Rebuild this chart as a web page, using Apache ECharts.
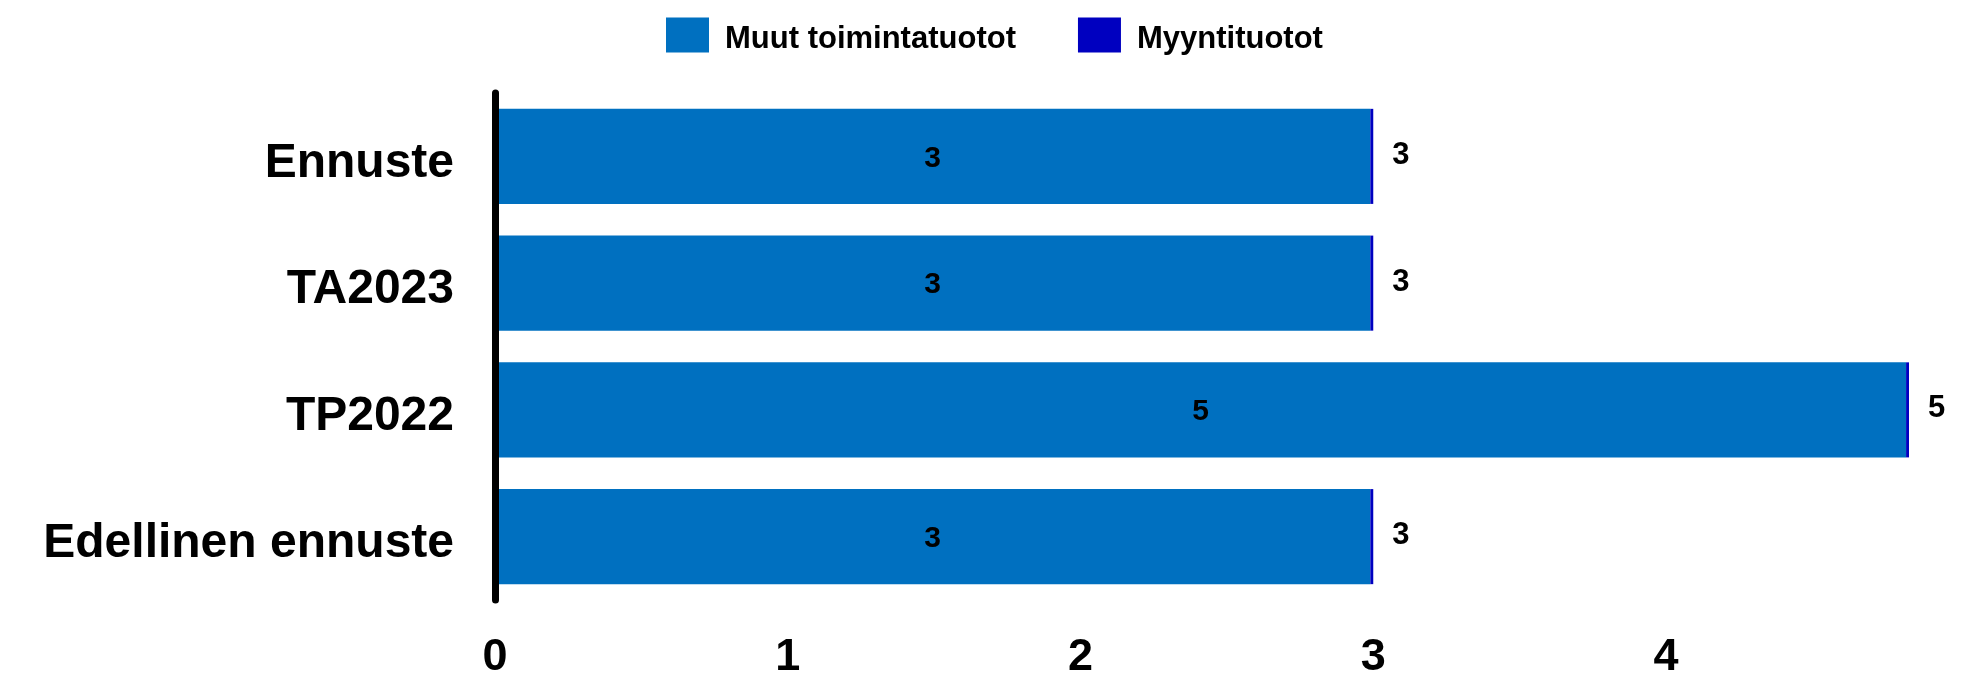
<!DOCTYPE html>
<html>
<head>
<meta charset="utf-8">
<script src="https://cdn.jsdelivr.net/npm/echarts@6/dist/echarts.min.js"></script>
<style>html,body{margin:0;padding:0;background:#fff;}#c{width:1977px;height:676px;}</style>
</head>
<body>
<div id="c"></div>
<script>
const categories = ['Edellinen ennuste', 'TP2022', 'TA2023', 'Ennuste'];
const muutToimintatuotot = [2.99, 4.82, 2.99, 2.99];
const myyntituotot = [0.01, 0.01, 0.01, 0.01];
const xTicks = [0, 1, 2, 3, 4];

const totals = categories.map((c, i) => muutToimintatuotot[i] + myyntituotot[i]);
const axisMax = Math.max(...totals);

const chart = echarts.init(document.getElementById('c'));
chart.setOption({
  animation: false,
  backgroundColor: '#ffffff',
  legend: {
    left: 661,
    top: 10,
    itemWidth: 43,
    itemHeight: 35,
    itemGap: 62,
    icon: 'rect',
    formatter: name => '\n' + name,
    textStyle: {
      fontFamily: '"Liberation Sans", Arial, sans-serif',
      fontWeight: 'bold',
      fontSize: 31,
      lineHeight: 9,
      color: '#000',
      padding: [0, 0, 0, 11]
    },
    data: ['Muut toimintatuotot', 'Myyntituotot']
  },
  grid: { left: 495, right: 68, top: 93, bottom: 76, containLabel: false, outerBoundsMode: 'none' },
  xAxis: {
    type: 'value',
    min: 0,
    max: axisMax,
    interval: 1,
    splitLine: { show: false },
    axisLine: { show: false },
    axisTick: { show: false },
    axisLabel: {
      margin: 35,
      fontFamily: '"Liberation Sans", Arial, sans-serif',
      fontWeight: 'bold',
      fontSize: 45,
      color: '#000',
      formatter: v => (xTicks.indexOf(v) >= 0 ? String(v) : '')
    }
  },
  yAxis: {
    type: 'category',
    data: categories,
    z: 10,
    axisLine: { show: true, lineStyle: { color: '#000', width: 7 } },
    axisTick: { show: false },
    axisLabel: {
      margin: 41,
      fontFamily: '"Liberation Sans", Arial, sans-serif',
      fontWeight: 'bold',
      fontSize: 48,
      lineHeight: 14,
      color: '#000',
      formatter: v => '\n' + v
    }
  },
  series: [
    {
      name: 'Muut toimintatuotot',
      type: 'bar',
      stack: 'total',
      barCategoryGap: '25%',
      itemStyle: { color: '#0070C0' },
      label: {
        show: true,
        position: 'inside',
        offset: [0, 2],
        fontFamily: '"Liberation Sans", Arial, sans-serif',
        fontWeight: 'bold',
        fontSize: 30,
        color: '#000',
        formatter: p => String(Math.round(p.value))
      },
      data: muutToimintatuotot
    },
    {
      name: 'Myyntituotot',
      type: 'bar',
      stack: 'total',
      barCategoryGap: '25%',
      itemStyle: { color: '#0000C0' },
      label: {
        show: true,
        position: 'right',
        distance: 19,
        offset: [0, -1],
        fontFamily: '"Liberation Sans", Arial, sans-serif',
        fontWeight: 'bold',
        fontSize: 31,
        color: '#000',
        formatter: p => String(Math.round(totals[p.dataIndex]))
      },
      data: myyntituotot
    }
  ]
});
</script>
</body>
</html>
